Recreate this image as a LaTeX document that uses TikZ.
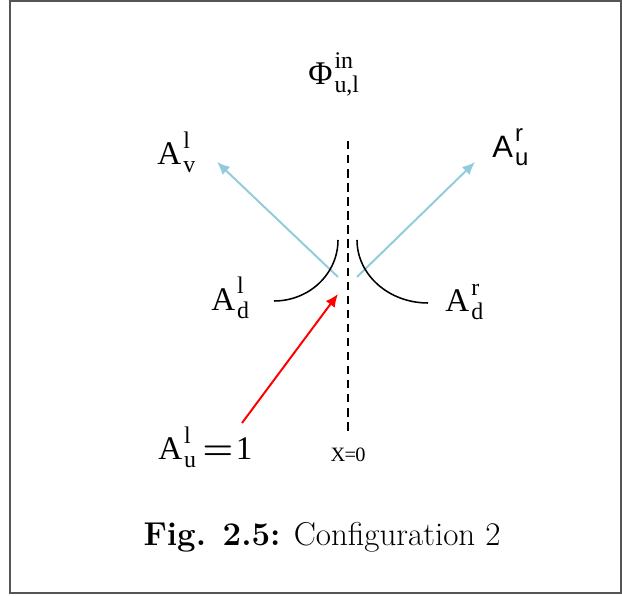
\documentclass[tikz,border=0pt]{standalone}
\usepackage{fontspec}
\usetikzlibrary{arrows.meta}
\newfontfamily\labelserif{Liberation Serif}
\newfontfamily\labelsans{Liberation Sans}
\definecolor{wireblue}{RGB}{146,203,220}
\definecolor{frame}{RGB}{85,85,85}
% base letter with stacked upper and lower index
\newcommand{\chan}[3]{#1\kern1.5pt{\fontsize{17}{17}\selectfont
  \setbox0\hbox{\raisebox{12pt}{#2}}\setbox2\hbox{\raisebox{-5.5pt}{#3}}%
  \ifdim\wd0>\wd2 \rlap{\box2}\box0 \else\rlap{\box0}\box2\fi}}

\begin{document}
\begin{tikzpicture}[>={Latex[length=3.2mm, width=2.8mm]}]

\useasboundingbox (0,0) rectangle (15.55,14.9);

\tikzset{
  lbl/.style={font=\labelserif\fontsize{23.5}{28}\selectfont, anchor=base west, inner sep=0pt},
  wave/.style={wireblue, line width=1.4pt, ->},
  decay/.style={black, line width=1.1pt}
}

% Frame
\draw[frame, line width=0.8pt] (0.25,0.075) rectangle (15.525,14.875);

% Interface x=0
\coordinate (wall-top) at (8.7,11.375);
\coordinate (wall-bot) at (8.7,4.1);
\draw[black, line width=1pt, dash pattern=on 6pt off 4pt] (wall-top) -- (wall-bot);

% Labels
\node[lbl] (phi) at (7.7,12.775) {\chan{Φ}{in}{u,l}};
\node[lbl] (alv) at (3.925,10.775) {\chan{A}{l}{v}};
\node[lbl, font=\labelsans\fontsize{22}{26}\selectfont] (aru) at (12.3,10.95) {\chan{A}{r}{u}};
\node[lbl] (ald) at (5.275,7.13) {\chan{A}{l}{d}};
\node[lbl] (ard) at (11.125,7.1) {\chan{A}{r}{d}};
\node[lbl] (alu) at (3.95,3.4) {\chan{A}{l}{u}\kern4.5pt{\boldmath$=$}\kern2pt1};
\node[lbl, anchor=base, font=\labelserif\fontsize{14.5}{17}\selectfont] (xzero) at (8.7,3.35)
  {X\kern-0.5pt=\kern-0.5pt0};

% Wave ends
\coordinate (refl-in) at (8.45,7.975);
\coordinate (refl-out) at (5.425,10.85);
\coordinate (trans-in) at (8.925,7.975);
\coordinate (trans-out) at (11.875,10.85);
\coordinate (inc-start) at (6.05,4.325);
\coordinate (inc-end) at (8.45,7.55);

% Reflected and transmitted waves
\draw[wave] (refl-in) -- (refl-out);
\draw[wave] (trans-in) -- (trans-out);

% Incoming wave
\draw[red, line width=1.4pt, ->] (inc-start) -- (inc-end);

% Decaying parts
\coordinate (decay-l) at (6.85,7.375);
\coordinate (decay-r) at (8.925,8.9);
\draw[decay] (decay-l) arc[start angle=270, end angle=360, x radius=1.6cm, y radius=1.525cm];
\draw[decay] (decay-r) arc[start angle=180, end angle=270, x radius=1.775cm, y radius=1.575cm];

% Caption
\node[font=\fontsize{23.5}{28}\selectfont, anchor=base, inner sep=0pt] (caption) at (8.05,1.25)
  {\textbf{Fig. 2.5:} Configuration 2};

\end{tikzpicture}
\end{document}
